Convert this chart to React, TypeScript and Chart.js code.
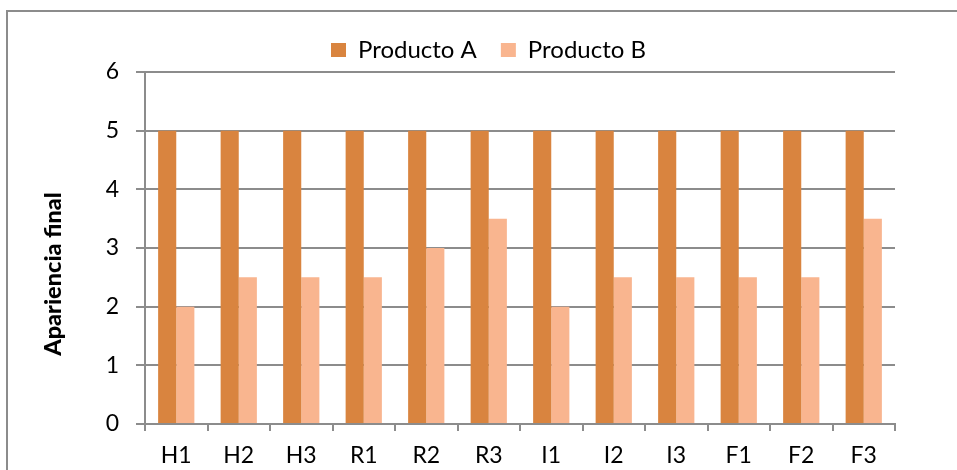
import { useEffect, useRef } from "react";
import { Chart, registerables } from "chart.js";

Chart.register(...registerables);

const categories = ["H1", "H2", "H3", "R1", "R2", "R3", "I1", "I2", "I3", "F1", "F2", "F3"];
const productoA = [5, 5, 5, 5, 5, 5, 5, 5, 5, 5, 5, 5];
const productoB = [2, 2.5, 2.5, 2.5, 3, 3.5, 2, 2.5, 2.5, 2.5, 2.5, 3.5];
const yMin = 0;
const yMax = 6;
const yStep = 1;
const yTitle = "Apariencia final";

const FONT = "Lato, 'Noto Sans', sans-serif";
const GRID = "#8c8c8c";

// Rotated axis title drawn beside the value axis
const yTitlePlugin = {
  id: "yTitle",
  afterDraw(chart: any) {
    const ctx = chart.ctx;
    ctx.save();
    ctx.translate(53, 274);
    ctx.rotate(-Math.PI / 2);
    ctx.font = `900 23.5px ${FONT}`;
    ctx.fillStyle = "#000";
    ctx.textAlign = "center";
    ctx.textBaseline = "middle";
    ctx.fillText(yTitle, 0, 0);
    ctx.restore();
  },
};

export default function App() {
  const ref = useRef<HTMLCanvasElement | null>(null);

  useEffect(() => {
    if (!ref.current) return;
    const chart = new Chart(ref.current, {
      type: "bar",
      data: {
        labels: categories,
        datasets: [
          {
            label: "Producto A",
            data: productoA,
            backgroundColor: "#D9843F",
            borderWidth: 0,
            categoryPercentage: 0.58,
            barPercentage: 1,
          },
          {
            label: "Producto B",
            data: productoB,
            backgroundColor: "#F9B58F",
            borderWidth: 0,
            categoryPercentage: 0.58,
            barPercentage: 1,
          },
        ],
      },
      options: {
        responsive: false,
        animation: false,
        layout: { padding: { top: 14, right: 62, left: 82, bottom: 0 } },
        plugins: {
          legend: {
            position: "top",
            labels: {
              boxWidth: 15,
              boxHeight: 14,
              padding: 24,
              color: "#000",
              font: { family: FONT, size: 24 },
            },
          },
          tooltip: { enabled: false },
          title: { display: false },
        },
        scales: {
          x: {
            afterFit(scale: any) {
              scale.height = 46;
            },
            grid: {
              display: true,
              drawOnChartArea: false,
              offset: true,
              tickLength: 7,
              color: GRID,
              lineWidth: 2,
            },
            border: { display: true, color: GRID, width: 2 },
            ticks: {
              color: "#000",
              padding: 11,
              font: { family: FONT, size: 23 },
              maxRotation: 0,
            },
          },
          y: {
            min: yMin,
            max: yMax,
            afterFit(scale: any) {
              scale.width = 63;
            },
            grid: {
              color: GRID,
              lineWidth: 2,
              tickLength: 9,
            },
            border: { display: true, color: GRID, width: 2 },
            ticks: {
              stepSize: yStep,
              color: "#000",
              padding: 17,
              font: { family: FONT, size: 23 },
            },
          },
        },
      },
      plugins: [yTitlePlugin],
    });
    return () => chart.destroy();
  }, []);

  return (
    <div
      style={{
        position: "absolute",
        left: 0,
        top: 0,
        width: 957,
        height: 470,
        overflow: "hidden",
        background: "#fff",
      }}
    >
      <div
        style={{
          position: "absolute",
          left: 6,
          top: 10,
          width: 980,
          height: 500,
          border: "2px solid #8c8c8c",
        }}
      />
      <canvas
        ref={ref}
        width={957}
        height={470}
        style={{ position: "absolute", left: 0, top: 0 }}
      />
    </div>
  );
}
